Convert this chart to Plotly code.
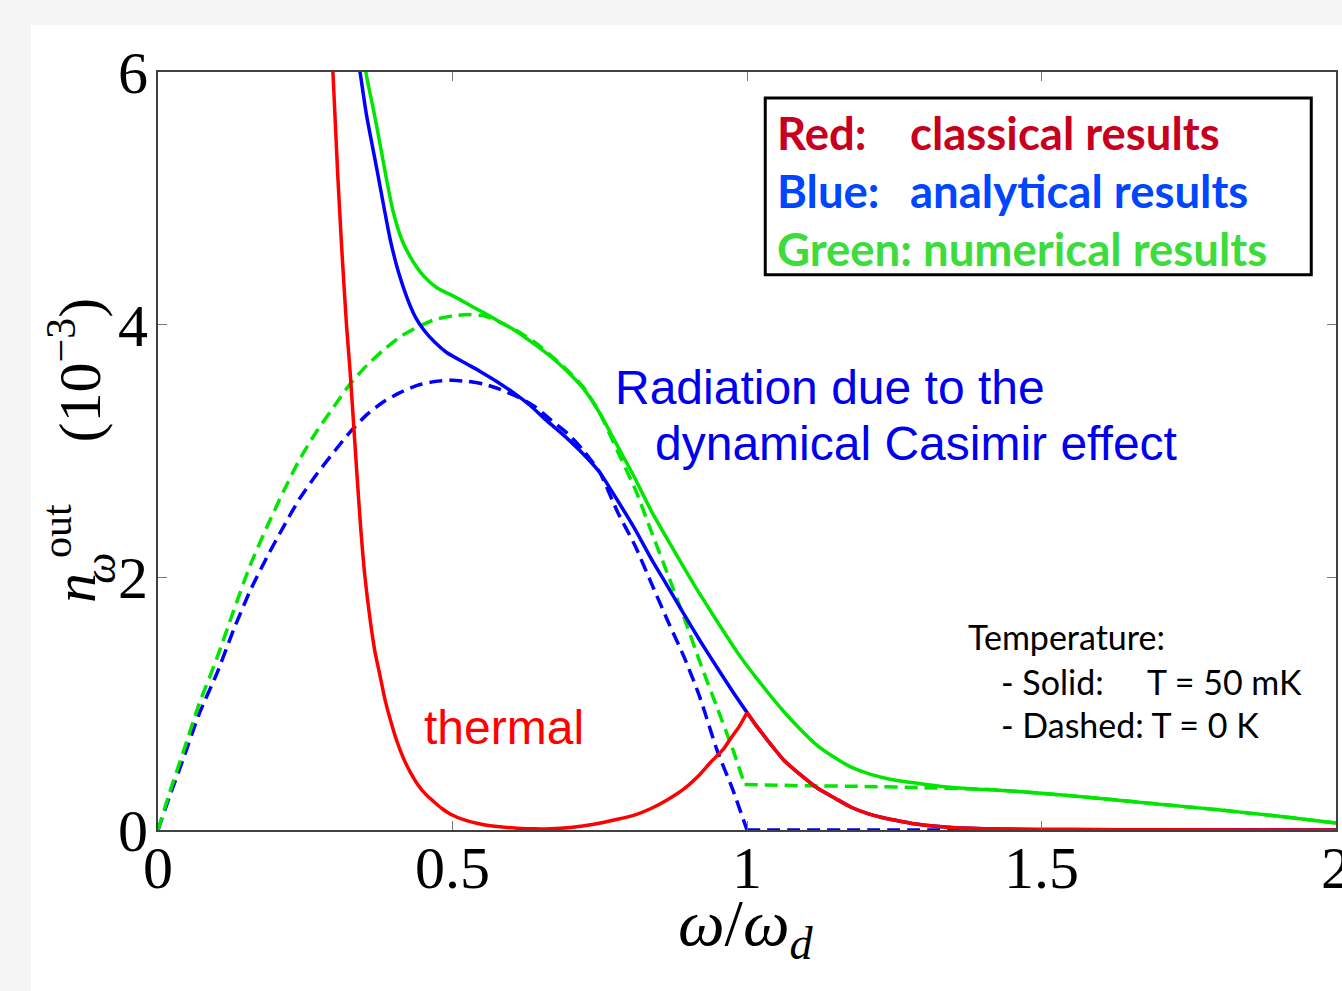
import plotly.graph_objects as go

# ---------------- data ----------------
red_x = [0.290, 0.297, 0.305, 0.312, 0.320, 0.326, 0.332, 0.338, 0.344, 0.351, 0.360, 0.368,
         0.377, 0.385, 0.394, 0.405, 0.417, 0.428, 0.440, 0.455, 0.468, 0.482, 0.496, 0.520,
         0.553, 0.580, 0.610, 0.640, 0.667, 0.700, 0.740, 0.780, 0.810, 0.837, 0.865, 0.894,
         0.920, 0.939, 0.960, 0.973, 0.987, 1.000, 1.012, 1.025, 1.040, 1.063, 1.090, 1.120,
         1.150, 1.177, 1.205, 1.233, 1.260, 1.290, 1.347, 1.430, 1.550, 1.700, 2.000]
red_y = [6.60, 6.00, 5.20, 4.60, 4.00, 3.64, 3.22, 2.80, 2.40, 2.02, 1.67, 1.42,
         1.22, 1.04, 0.88, 0.71, 0.565, 0.46, 0.367, 0.28, 0.226, 0.17, 0.127, 0.08,
         0.042, 0.025, 0.014, 0.009, 0.010, 0.020, 0.045, 0.085, 0.12, 0.17, 0.24, 0.33,
         0.44, 0.54, 0.64, 0.73, 0.82, 0.93, 0.85, 0.77, 0.68, 0.55, 0.44, 0.33,
         0.25, 0.18, 0.13, 0.095, 0.07, 0.045, 0.02, 0.008, 0.003, 0.001, 0.0]

blue_solid_x = [0.336, 0.343, 0.354, 0.372, 0.394, 0.408, 0.423, 0.437, 0.451, 0.470, 0.490,
                0.520, 0.547, 0.575, 0.604, 0.632, 0.660, 0.690, 0.717, 0.750, 0.780, 0.810,
                0.837, 0.865, 0.894, 0.920, 0.950, 0.975, 1.000, 1.012, 1.025, 1.040, 1.063,
                1.090, 1.120, 1.150, 1.177, 1.205, 1.233, 1.260, 1.290, 1.347, 1.430, 1.550,
                1.700, 2.000]
blue_solid_y = [6.20, 6.00, 5.66, 5.22, 4.68, 4.42, 4.21, 4.06, 3.96, 3.86, 3.78,
                3.70, 3.63, 3.55, 3.46, 3.36, 3.24, 3.12, 3.00, 2.83, 2.61, 2.38,
                2.15, 1.93, 1.70, 1.50, 1.28, 1.10, 0.93, 0.85, 0.77, 0.68, 0.55,
                0.44, 0.33, 0.25, 0.18, 0.13, 0.095, 0.07, 0.045, 0.02, 0.008, 0.003,
                0.001, 0.0]

blue_dash_x = [0.000, 0.020, 0.043, 0.070, 0.100, 0.128, 0.156, 0.185, 0.213, 0.240, 0.270,
               0.300, 0.326, 0.355, 0.383, 0.410, 0.440, 0.470, 0.500, 0.527, 0.553, 0.580,
               0.610, 0.640, 0.666, 0.695, 0.723, 0.750, 0.780, 0.810, 0.837, 0.865, 0.894,
               0.920, 0.950, 0.975, 1.000, 1.500, 2.000]
blue_dash_y = [0.00, 0.27, 0.565, 0.92, 1.24, 1.58, 1.89, 2.16, 2.40, 2.62, 2.82,
               3.00, 3.15, 3.29, 3.39, 3.46, 3.52, 3.55, 3.56, 3.55, 3.53, 3.49,
               3.43, 3.35, 3.25, 3.14, 3.00, 2.83, 2.52, 2.25, 1.96, 1.66, 1.36,
               1.05, 0.62, 0.33, 0.00, 0.00, 0.00]

green_solid_x = [0.350, 0.353, 0.365, 0.377, 0.388, 0.399, 0.415, 0.433, 0.452, 0.474, 0.500,
                 0.535, 0.570, 0.604, 0.635, 0.666, 0.695, 0.723, 0.750, 0.779, 0.808, 0.837,
                 0.870, 0.909, 0.940, 0.983, 1.000, 1.030, 1.062, 1.090, 1.119, 1.150, 1.176,
                 1.210, 1.245, 1.289, 1.330, 1.385, 1.430, 1.500, 1.600, 1.687, 1.800, 1.900,
                 2.000]
green_solid_y = [6.30, 6.00, 5.72, 5.43, 5.15, 4.90, 4.66, 4.50, 4.38, 4.29, 4.23,
                 4.14, 4.05, 3.96, 3.86, 3.75, 3.63, 3.49, 3.30, 3.05, 2.80, 2.53,
                 2.26, 1.95, 1.72, 1.41, 1.30, 1.12, 0.94, 0.80, 0.67, 0.57, 0.50,
                 0.44, 0.40, 0.37, 0.345, 0.325, 0.315, 0.29, 0.25, 0.21, 0.16, 0.11,
                 0.055]

green_dash_x = [0.000, 0.020, 0.043, 0.070, 0.100, 0.128, 0.156, 0.185, 0.213, 0.240, 0.270,
                0.300, 0.326, 0.355, 0.383, 0.410, 0.440, 0.470, 0.500, 0.527, 0.553, 0.580,
                0.610, 0.640, 0.666, 0.695, 0.723, 0.750, 0.780, 0.810, 0.837, 0.865, 0.894,
                0.920, 0.950, 0.975, 0.996, 1.100, 1.200, 1.300, 1.385, 1.430, 1.500, 1.600,
                1.700, 1.800, 1.900, 2.000]
green_dash_y = [0.00, 0.30, 0.62, 1.00, 1.36, 1.73, 2.09, 2.40, 2.68, 2.93, 3.16,
                3.36, 3.53, 3.68, 3.80, 3.90, 3.98, 4.04, 4.07, 4.08, 4.07, 4.02,
                3.95, 3.86, 3.76, 3.64, 3.50, 3.30, 3.00, 2.70, 2.37, 2.03, 1.67,
                1.33, 0.96, 0.65, 0.36, 0.35, 0.345, 0.335, 0.325, 0.315, 0.29, 0.25,
                0.205, 0.16, 0.11, 0.055]

x_ticks = [0, 0.5, 1, 1.5, 2]
x_tick_labels = ["0", "0.5", "1", "1.5", "2"]
y_ticks = [0, 2, 4, 6]
y_tick_labels = ["0", "2", "4", "6"]

# ---------------- figure ----------------
RED, BLUE, GREEN = "#ff0000", "#0000ff", "#00e600"
DASH = "13px,7px"
LW = 3.5

fig = go.Figure()


def add_curve(xs, ys, color, dash, corners):
    """Draw a curve as smooth pieces, keeping sharp corners at the given x values."""
    idx = [0] + [xs.index(c) for c in corners] + [len(xs) - 1]
    for a, b in zip(idx[:-1], idx[1:]):
        fig.add_trace(go.Scatter(x=xs[a:b + 1], y=ys[a:b + 1], mode="lines",
                                 line=dict(color=color, width=LW, dash=dash,
                                           shape="spline", smoothing=0.6),
                                 showlegend=False, hoverinfo="skip"))


add_curve(blue_dash_x, blue_dash_y, BLUE, DASH, [1.000])
add_curve(green_dash_x, green_dash_y, GREEN, DASH, [0.996])
add_curve(blue_solid_x, blue_solid_y, BLUE, "solid", [1.000])
add_curve(green_solid_x, green_solid_y, GREEN, "solid", [])
add_curve(red_x, red_y, RED, "solid", [1.000])

SERIF = "Liberation Serif"
SANS = "Liberation Sans"
CAL = "Lato"

axis_common = dict(showline=True, linecolor="#404040", linewidth=2, mirror="ticks",
                   ticks="inside", ticklen=9, tickwidth=1, tickcolor="#777",
                   showgrid=False, zeroline=False, ticklabeloverflow="allow",
                   automargin=False,
                   tickfont=dict(family=SERIF, size=60, color="black"))

fig.update_layout(
    width=1342, height=991,
    margin=dict(l=158, r=6, t=72, b=161),
    paper_bgcolor="#f5f5f5", plot_bgcolor="white",
    showlegend=False,
    xaxis=dict(range=[0, 2], tickvals=x_ticks, ticktext=x_tick_labels,
               ticklabelstandoff=-16, **axis_common),
    yaxis=dict(range=[0, 6], tickvals=y_ticks, ticktext=y_tick_labels,
               ticklabelstandoff=-4, **axis_common),
)

# white slide panel behind the chart
fig.add_shape(type="rect", xref="paper", yref="paper", x0=-0.1078, x1=1.01, y0=-0.25, y1=1.062,
              fillcolor="white", line=dict(width=0), layer="below")

# legend-like box
fig.add_shape(type="rect", xref="x", yref="y", x0=1.031, x1=1.958, y0=4.395, y1=5.794,
              fillcolor="white", line=dict(color="black", width=3), layer="above")


def ann(text, x, y, size, color, family, xanchor="left", ref="x", **kw):
    fig.add_annotation(text=text, x=x, y=y,
                       xref=("x" if ref == "x" else "paper"),
                       yref=("y" if ref == "x" else "paper"),
                       showarrow=False, xanchor=xanchor, yanchor="middle",
                       font=dict(family=family, size=size, color=color), **kw)


LRED, LBLUE, LGREEN = "#c8001e", "#0046ff", "#3cdc3c"
LS = 45.5
ann("<b>Red:</b>", 1.0476, 5.52, LS, LRED, CAL)
ann("<b>classical results</b>", 1.2736, 5.52, LS, LRED, CAL)
ann("<b>Blue:</b>", 1.0476, 5.06, LS, LBLUE, CAL)
ann("<b>analytical results</b>", 1.2736, 5.06, LS, LBLUE, CAL)
ann("<b>Green: numerical results</b>", 1.0476, 4.603, LS, LGREEN, CAL)

ann("Radiation due to the", 0.772, 3.50, 48, "#0000ee", SANS)
ann("dynamical Casimir effect", 0.840, 3.06, 48, "#0000ee", SANS)
ann("thermal", 0.449, 0.81, 48, "#ff0000", SANS)

TS = 34
ann("Temperature:", 1.372, 1.534, TS, "black", CAL)
ann("- Solid:", 1.428, 1.178, TS, "black", CAL)
ann("T = 50 mK", 1.676, 1.178, TS, "black", CAL)
ann("- Dashed: T = 0 K", 1.428, 0.838, TS, "black", CAL)

# axis titles (paper coordinates, outside the plotting area)
ann("<i>ω</i>/<i>ω</i><sub><i>d</i></sub>", 0.4992, -0.128, 66, "black", SERIF,
    xanchor="center", ref="paper")
ann("<i>n</i>", -0.0705, 0.3193, 60, "black", SERIF, xanchor="center", ref="paper",
    textangle=-90)
ann("out", -0.0857, 0.3945, 42, "black", SERIF, xanchor="center", ref="paper",
    textangle=-90)
ann("<i>ω</i>", -0.0495, 0.3456, 44, "black", SERIF, xanchor="center", ref="paper",
    textangle=-90)
ann("(10<sup>−3</sup>)", -0.0700, 0.6069, 60, "black", SERIF, xanchor="center", ref="paper",
    textangle=-90)

fig.write_html("out.html")
